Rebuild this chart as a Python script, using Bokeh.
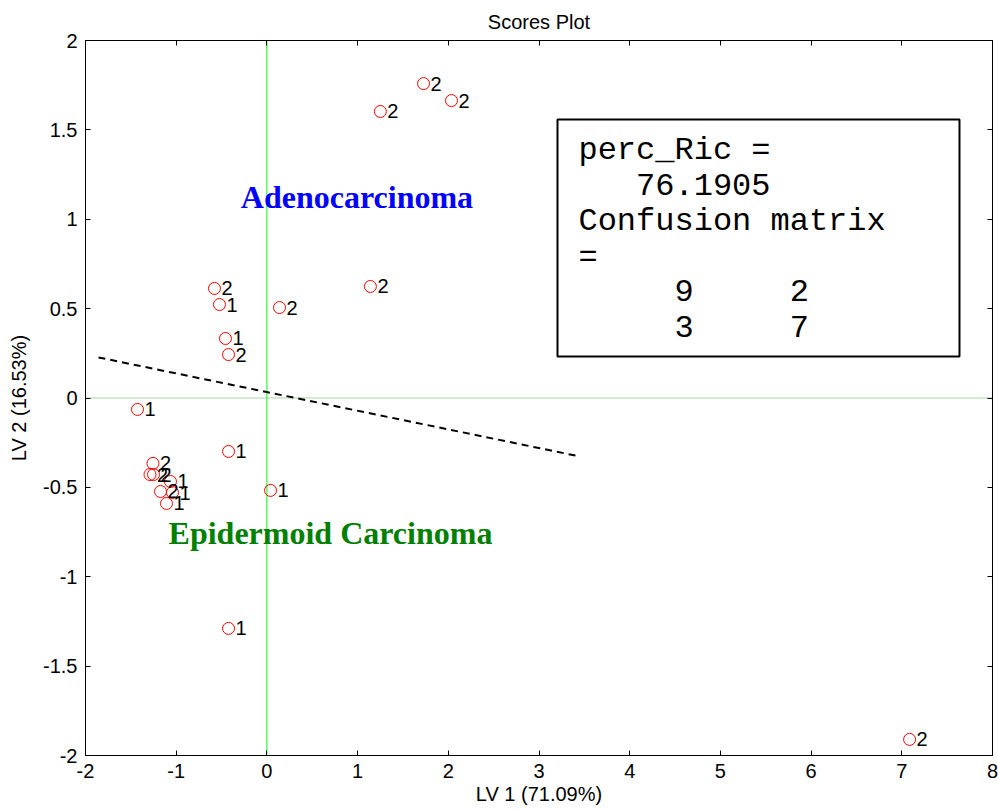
from bokeh.plotting import figure
from bokeh.models import FixedTicker, LinearAxis, Range1d, CustomJSTickFormatter, Span, BoxAnnotation
from bokeh.core.properties import value
from bokeh.embed import file_html
from bokeh.resources import INLINE

# ---- data ----
lv1 = [1.727, 2.035, 1.251, -0.578, -0.523, 0.139, 1.141, -0.457, -0.423,
       -1.427, -0.423, 0.040, -0.423, 7.086,
       -1.256, -1.289, -1.250, -1.063, -1.173, -1.041, -1.107]
lv2 = [1.759, 1.664, 1.603, 0.613, 0.523, 0.506, 0.624, 0.333, 0.243,
       -0.064, -0.299, -0.517, -1.289, -1.910,
       -0.366, -0.428, -0.428, -0.467, -0.523, -0.529, -0.590]
cls = ["2", "2", "2", "2", "1", "2", "2", "1", "2",
       "1", "1", "1", "1", "2",
       "2", "2", "2", "1", "2", "1", "1"]
x_ticks = [-2, -1, 0, 1, 2, 3, 4, 5, 6, 7, 8]
y_ticks = [-2, -1.5, -1, -0.5, 0, 0.5, 1, 1.5, 2]
sep_x = [-1.857, 3.402]
sep_y = [0.227, -0.322]
class_names = ["Adenocarcinoma", "Epidermoid Carcinoma"]
NB = "\u00a0"
box_lines = ["perc_Ric =", NB * 3 + "76.1905", "Confusion matrix", "=",
             NB * 5 + "9" + NB * 5 + "2", NB * 5 + "3" + NB * 5 + "7"]

# ---- layout constants ----
BOX = dict(left=3.204, right=7.636, top=1.558, bottom=0.232)
TXT_X = 3.435
TXT_Y0 = 1.385
TXT_DY = 0.1992

p = figure(width=998, height=811, x_range=Range1d(-2, 8), y_range=Range1d(-2, 2),
           output_backend="svg", toolbar_location=None, title="Scores Plot",
           min_border_left=85, min_border_right=6, min_border_top=40, min_border_bottom=56)
p.background_fill_color = "white"
p.border_fill_color = "white"
p.outline_line_color = "black"
p.outline_line_width = 1
p.grid.visible = False

p.title.align = "center"
p.title.text_font = "Liberation Sans"
p.title.text_font_size = "20px"
p.title.text_font_style = "normal"
p.title.text_color = "black"
p.title.standoff = 16

fmt = CustomJSTickFormatter(code="return tick.toString();")

def style_axis(ax, ticks, labels=True):
    ax.ticker = FixedTicker(ticks=ticks)
    ax.major_tick_in = 5
    ax.major_tick_out = 0
    ax.minor_tick_line_color = None
    ax.axis_line_color = "black"
    ax.major_tick_line_color = "black"
    ax.major_label_text_font = "Liberation Sans"
    ax.axis_label_text_font = "Liberation Sans"
    ax.axis_label_text_font_size = "20px"
    ax.axis_label_text_font_style = "normal"
    ax.axis_label_text_color = "black"
    if labels:
        ax.formatter = fmt
        ax.major_label_text_color = "black"
        ax.major_label_text_font_size = "20px"
        ax.major_label_standoff = 8
    else:
        ax.major_label_text_color = None
        ax.major_label_text_font_size = "0px"
        ax.major_label_standoff = 0

style_axis(p.xaxis[0], x_ticks)
style_axis(p.yaxis[0], y_ticks)
p.xaxis[0].axis_label = "LV 1 (71.09%)"
p.yaxis[0].axis_label = "LV 2 (16.53%)"
p.xaxis[0].axis_label_standoff = 2
p.yaxis[0].axis_label_standoff = 10

top_ax = LinearAxis()
style_axis(top_ax, x_ticks, labels=False)
p.add_layout(top_ax, "above")
right_ax = LinearAxis()
style_axis(right_ax, y_ticks, labels=False)
p.add_layout(right_ax, "right")

# zero lines
p.add_layout(Span(location=0, dimension="width", line_color="#a8d8a8", line_width=1, level="underlay"))
p.add_layout(Span(location=0, dimension="height", line_color="#00ff00", line_width=1, level="underlay"))

# separating line
p.line(sep_x, sep_y, line_color="black", line_width=2, line_dash="7 5")

# points
p.scatter(lv1, lv2, marker="circle", size=12, fill_color=None, line_color="red", line_width=1)
p.text(lv1, lv2, text=cls, x_offset=7, text_baseline="middle", text_align="left",
       text_font=value("Liberation Sans"), text_font_size="20px", text_color="black")

# class annotations
p.text([0.993], [1.122], text=[class_names[0]], text_align="center", text_baseline="middle",
       text_font=value("Liberation Serif"), text_font_style="bold", text_font_size="32px",
       text_color="#0000ff")
p.text([0.701], [-0.758], text=[class_names[1]], text_align="center", text_baseline="middle",
       text_font=value("Liberation Serif"), text_font_style="bold", text_font_size="32px",
       text_color="#008000")

# results box
p.add_layout(BoxAnnotation(fill_color=None, line_color="black", line_alpha=1.0, line_width=2, **BOX))
p.text([TXT_X] * len(box_lines), [TXT_Y0 - i * TXT_DY for i in range(len(box_lines))],
       text=box_lines, text_align="left", text_baseline="middle",
       text_font=value("Liberation Mono"), text_font_size="32px", text_color="black")

open("out.html", "w").write(file_html(p, INLINE))
